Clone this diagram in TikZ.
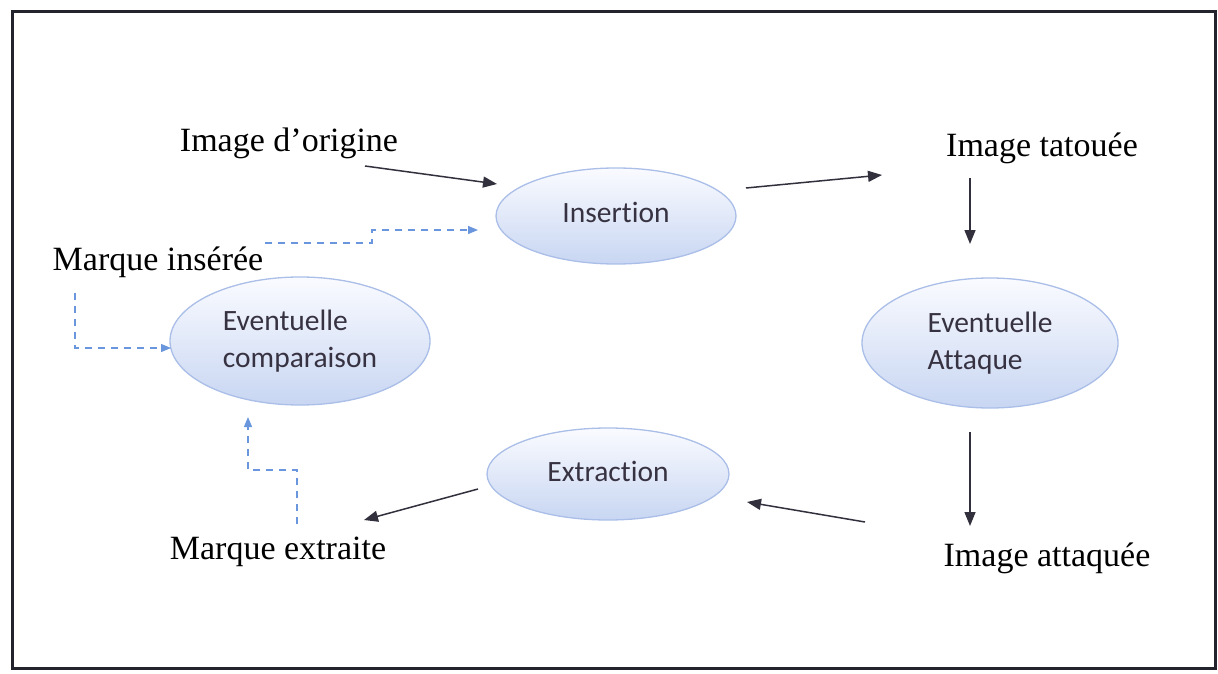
\documentclass[tikz,border=0pt]{standalone}
\usepackage{fontspec}
\setmainfont{Liberation Serif}
\newfontfamily\bubblefont[Ligatures={NoCommon,NoRequired,NoContextual}]{Carlito}
\usetikzlibrary{shapes.geometric,arrows.meta}
\definecolor{framecol}{RGB}{35,35,45}
\definecolor{arrowcol}{RGB}{50,48,60}
\definecolor{dashcol}{RGB}{105,150,220}
\definecolor{bubbletop}{RGB}{250,251,255}
\definecolor{bubblebot}{RGB}{200,214,242}
\definecolor{bubbleedge}{RGB}{170,190,232}
\definecolor{bubbletext}{RGB}{55,50,65}
\tikzset{
  x=1pt, y=-1pt,
  caption/.style={inner sep=0pt, font=\fontsize{34}{40}\selectfont},
  bubble/.style={ellipse, draw=bubbleedge, line width=1.3pt, top color=bubbletop,
    bottom color=bubblebot, inner sep=0pt, text=bubbletext, align=left,
    font=\bubblefont\fontsize{29.5}{37}\selectfont},
  flow/.style={draw=arrowcol, line width=1.5pt, -{Triangle[length=14pt,width=11pt]}},
  markpath/.style={draw=dashcol, line width=1.2pt, dash pattern=on 7pt off 6pt,
    -{Triangle[length=10pt,width=8pt]}},
}
\begin{document}
\begin{tikzpicture}
\useasboundingbox (0,0) rectangle (1218,674);
% outer frame
\draw[framecol, line width=3pt] (12,12) rectangle (1215,668);

% process bubbles
\node[bubble, minimum width=240pt, minimum height=96pt] (ins) at (616,216) {\raisebox{8pt}{Insertion}};
\node[bubble, minimum width=256pt, minimum height=130pt] (att) at (990,343) {Eventuelle\\Attaque};
\node[bubble, minimum width=242pt, minimum height=92pt] (ext) at (608,474) {\raisebox{6pt}{Extraction}};
\node[bubble, minimum width=260pt, minimum height=128pt] (cmp) at (300,341) {Eventuelle\\comparaison};

% image / mark captions
\node[caption] (orig) at (289,143) {Image d'origine};
\node[caption] (tat)  at (1042,148) {Image tatouée};
\node[caption] (atq)  at (1047,558) {Image attaquée};
\node[caption] (mext) at (278,552) {Marque extraite};
\node[caption] (mins) at (158,262) {Marque insérée};

% connector end points
\coordinate (o1) at (365,166);  \coordinate (o2) at (497,184);
\coordinate (i1) at (746,188);  \coordinate (i2) at (882,175);
\coordinate (t1) at (970,178);  \coordinate (t2) at (970,244);
\coordinate (a1) at (970,432);  \coordinate (a2) at (970,526);
\coordinate (q1) at (865,522);  \coordinate (q2) at (747,502);
\coordinate (e1) at (478,489);  \coordinate (e2) at (364,520);
\coordinate (m1) at (265,243);  \coordinate (m2) at (372,243);
\coordinate (m3) at (372,230);  \coordinate (m4) at (478,230);
\coordinate (n1) at (75,293);   \coordinate (n2) at (75,348);
\coordinate (n3) at (171,348);
\coordinate (x1) at (297,524);  \coordinate (x2) at (297,470);
\coordinate (x3) at (248,470);  \coordinate (x4) at (248,417);

% main watermarking flow
\draw[flow] (o1) -- (o2);
\draw[flow] (i1) -- (i2);
\draw[flow] (t1) -- (t2);
\draw[flow] (a1) -- (a2);
\draw[flow] (q1) -- (q2);
\draw[flow] (e1) -- (e2);

% mark paths
\draw[markpath] (m1) -- (m2) -- (m3) -- (m4);
\draw[markpath] (n1) -- (n2) -- (n3);
\draw[markpath] (x1) -- (x2) -- (x3) -- (x4);
\end{tikzpicture}
\end{document}
